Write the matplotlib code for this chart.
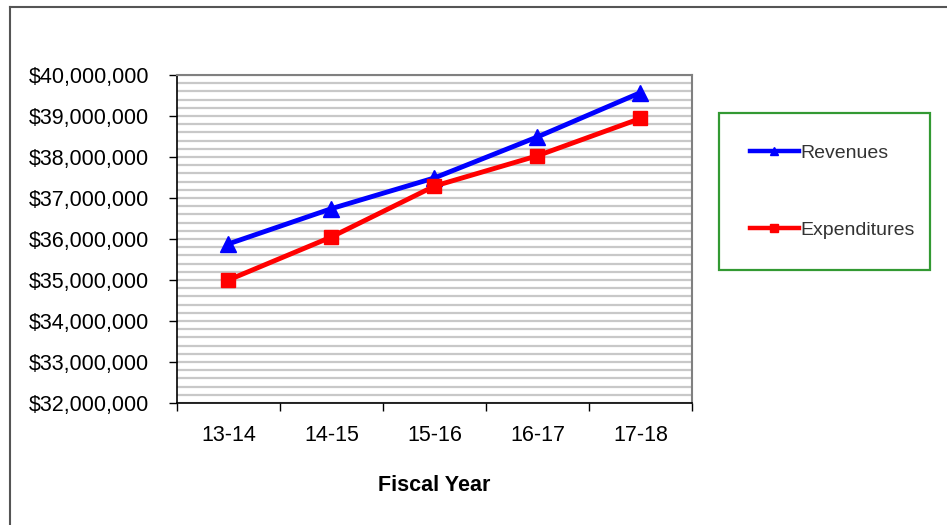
import matplotlib.pyplot as plt
from matplotlib.lines import Line2D
from matplotlib.ticker import FuncFormatter, MultipleLocator

#data
years = ["13-14", "14-15", "15-16", "16-17", "17-18"]
revenues = [35880000, 36740000, 37490000, 38490000, 39570000]
expenditures = [35000000, 36050000, 37290000, 38030000, 38940000]

plt.rcParams['font.family'] = ['Liberation Sans', 'DejaVu Sans']

fig = plt.figure(figsize=(9.47, 5.25), dpi=100)
ax = fig.add_axes([0.1869, 0.2324, 0.5438, 0.6248])

x = list(range(len(years)))
ax.plot(x, revenues, color="#0000ff", lw=3.5, marker="^", ms=11, label="Revenues", zorder=3)
ax.plot(x, expenditures, color="#ff0000", lw=3.5, marker="s", ms=10, label="Expenditures", zorder=3)

#axes
ax.set_xlim(-0.5, len(years) - 0.5)
ax.set_ylim(32000000, 40000000)
ax.yaxis.set_major_locator(MultipleLocator(1000000))
ax.yaxis.set_minor_locator(MultipleLocator(200000))
ax.yaxis.set_major_formatter(FuncFormatter(lambda v, p: "${:,.0f}".format(v)))
ax.grid(which="both", axis="y", color="#c8c8c8", lw=1.6)
ax.set_axisbelow(True)

ax.set_xticks([i - 0.5 for i in range(len(years) + 1)])
ax.set_xticklabels([])
ax.set_xticks(x, minor=True)
ax.set_xticklabels(years, minor=True)
ax.tick_params(axis="x", which="major", length=6, width=1, color="black")
ax.tick_params(axis="x", which="minor", length=0, pad=16, labelsize=15.5)
ax.tick_params(axis="y", which="major", length=6, width=1, labelsize=15.5, pad=14)
ax.tick_params(axis="y", which="minor", length=0)

for s in ["top", "right"]:
    ax.spines[s].set_color("#808080")
    ax.spines[s].set_linewidth(1.5)
for s in ["left", "bottom"]:
    ax.spines[s].set_color("black")
    ax.spines[s].set_linewidth(1.2)

ax.set_xlabel("Fiscal Year", fontsize=15.5, fontweight="bold", labelpad=21)

#legend
handles = [Line2D([], [], color="#0000ff", lw=3.2, marker="^", ms=6),
           Line2D([], [], color="#ff0000", lw=3.2, marker="s", ms=6)]
leg = fig.legend(handles, ["Revenues", "Expenditures"], loc="center left",
                 bbox_to_anchor=(719 / 947, 1 - 270 / 525, 211 / 947, 157 / 525),
                 mode="expand", fancybox=False, fontsize=14, labelspacing=3.06,
                 handlelength=2.5, handletextpad=0.1, borderpad=1.6, borderaxespad=0)
leg.get_frame().set_edgecolor("#008000")
leg.get_frame().set_linewidth(1.6)
for t in leg.get_texts():
    t.set_color("#333333")

#outer border
fig.add_artist(Line2D([10 / 947, 1], [1 - 7 / 525, 1 - 7 / 525], transform=fig.transFigure, color="#555555", lw=1.5))
fig.add_artist(Line2D([10 / 947, 10 / 947], [0, 1 - 7 / 525], transform=fig.transFigure, color="#555555", lw=1.5))

plt.savefig("out.png", dpi=100)
